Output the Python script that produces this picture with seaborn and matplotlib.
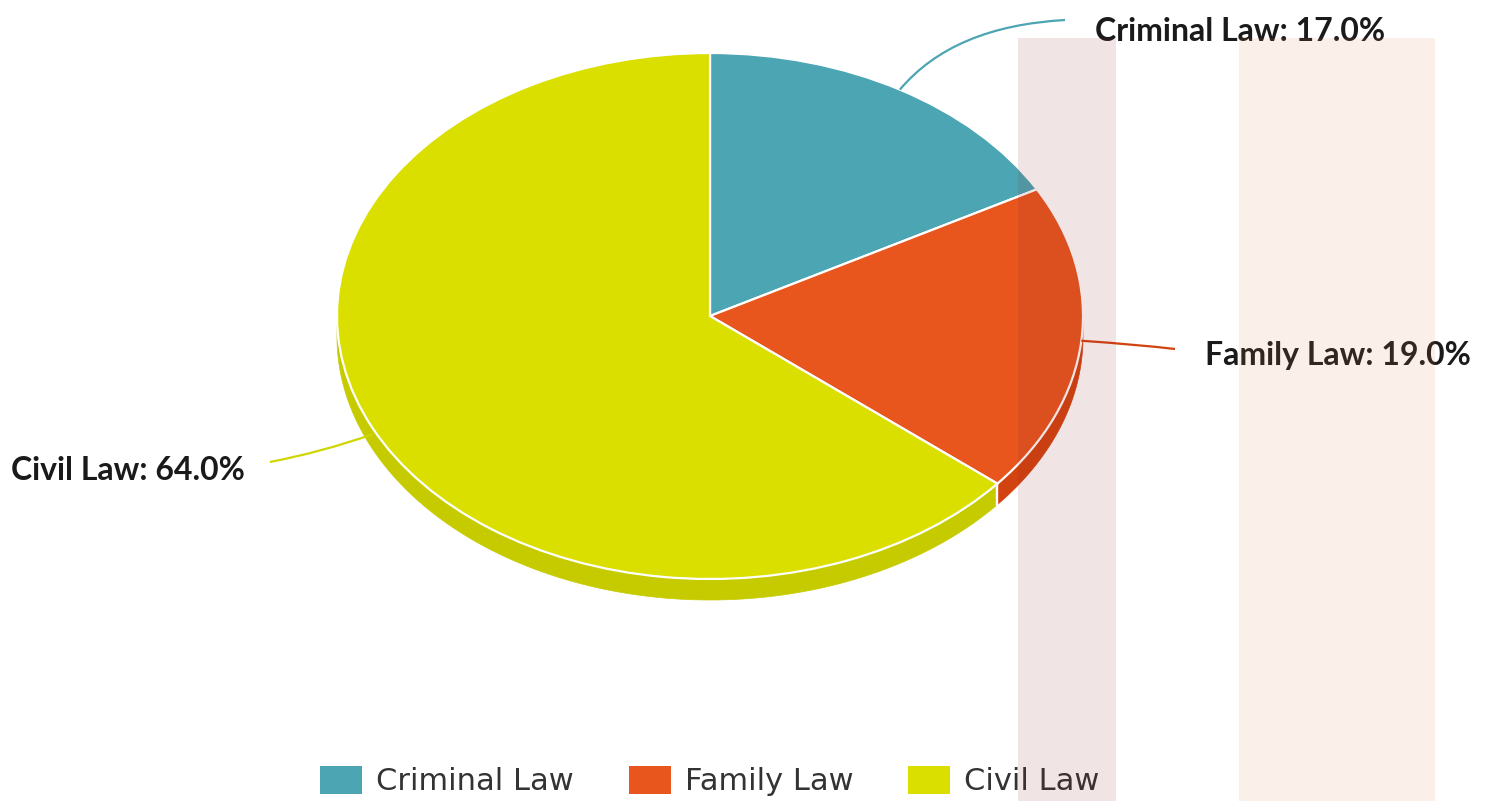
import numpy as np
import matplotlib
matplotlib.use("Agg")
import matplotlib.pyplot as plt
import seaborn as sns
from matplotlib.patches import Polygon, Rectangle, Patch, PathPatch
from matplotlib.path import Path

# ---- data ----
categories = ["Criminal Law", "Family Law", "Civil Law"]
shares = [17.0, 19.0, 64.0]
top_colors = ["#4ca5b3", "#e8561d", "#dbdf00"]
side_colors = ["#3f8f9b", "#d2430f", "#c6cb00"]
line_colors = ["#4ca5b3", "#d2430f", "#cfd600"]

sns.set_theme(style="white")
plt.rcParams["font.family"] = ["Lato", "DejaVu Sans"]

W, H = 1493, 801
fig = plt.figure(figsize=(W / 100, H / 100), dpi=100)
fig.patch.set_facecolor("white")

# ellipse (tilted pie) geometry in pixels
cx, cy, rx, ry, depth = 710, 316, 373, 263, 21
ax = fig.add_axes([(cx - rx) / W, 1 - (cy + ry) / H, 2 * rx / W, 2 * ry / H])
wedges, _ = ax.pie(shares, colors=top_colors, startangle=90, counterclock=False,
                   radius=1, frame=False,
                   wedgeprops=dict(edgecolor="white", linewidth=1.6, zorder=3))
ax.set_aspect("auto")
ax.set_xlim(-1, 1)
ax.set_ylim(-1, 1)
ax.axis("off")

# visible side wall of the disc (front half only)
d = depth / ry
for w, sc in zip(wedges, side_colors):
    t1, t2 = w.theta1, w.theta2
    for k in (-360, 0, 360):
        lo, hi = max(t1, -180 + k), min(t2, 0 + k)
        if hi <= lo:
            continue
        a = np.radians(np.linspace(lo, hi, 200))
        top = np.column_stack([np.cos(a), np.sin(a)])
        bot = np.column_stack([np.cos(a[::-1]), np.sin(a[::-1]) - d])
        ax.add_patch(Polygon(np.vstack([top, bot]), closed=True, facecolor=sc,
                             edgecolor=sc, linewidth=0.5, zorder=1, clip_on=False))
        for edge in (lo, hi):
            if -180 + k < edge < 0 + k:
                e = np.radians(edge)
                ax.plot([np.cos(e), np.cos(e)], [np.sin(e), np.sin(e) - d],
                        color="white", lw=1.6, zorder=2, clip_on=False)

# overlay axes in pixel coordinates for labels and leader lines
ov = fig.add_axes([0, 0, 1, 1], zorder=2)
ov.set_xlim(0, W)
ov.set_ylim(H, 0)
ov.axis("off")
ov.patch.set_alpha(0)

label_pos = [(1095, 41, "left"), (1205, 365, "left"), (245, 480, "right")]
line_ends = [(1065, 20), (1175, 349), (270, 462)]
bends = [1.28, 1.15, 1.15]
for w, cat, val, lc, (lx, ly, ha), (ex, ey), kb in zip(
        wedges, categories, shares, line_colors, label_pos, line_ends, bends):
    mid = np.radians((w.theta1 + w.theta2) / 2)
    px, py = cx + rx * np.cos(mid), cy - ry * np.sin(mid)
    if np.sin(mid) < -0.2:
        py += depth * 0.3
    bx, by = cx + (px - cx) * kb, cy + (py - cy) * kb
    path = Path([(px, py), (bx, by), (ex, ey)], [Path.MOVETO, Path.CURVE3, Path.CURVE3])
    ov.add_patch(PathPatch(path, facecolor="none", edgecolor=lc, lw=1.6))
    ov.text(lx, ly, f"{cat}: {val:.1f}%", ha=ha, va="baseline",
            fontsize=23, fontweight="bold", color="#1a1a1a")

# legend
handles = [Patch(facecolor=c, edgecolor="none") for c in top_colors]
fig.legend(handles, categories, loc="center", bbox_to_anchor=(710 / W, 1 - 781 / H),
           ncol=3, frameon=False, prop={"family": "DejaVu Sans", "size": 22},
           labelcolor="#333333", handlelength=1.37, handleheight=1.05,
           handletextpad=0.46, columnspacing=1.8)

# translucent highlight bands
for x0, x1, col in [(1018, 1116, (138 / 255, 38 / 255, 47 / 255)),
                    (1239, 1435, (230 / 255, 138 / 255, 80 / 255))]:
    fig.add_artist(Rectangle((x0 / W, 0), (x1 - x0) / W, 1 - 38 / H,
                             transform=fig.transFigure, facecolor=col,
                             alpha=0.12, edgecolor="none", zorder=10))

fig.savefig("out.png", dpi=100, facecolor="white")
